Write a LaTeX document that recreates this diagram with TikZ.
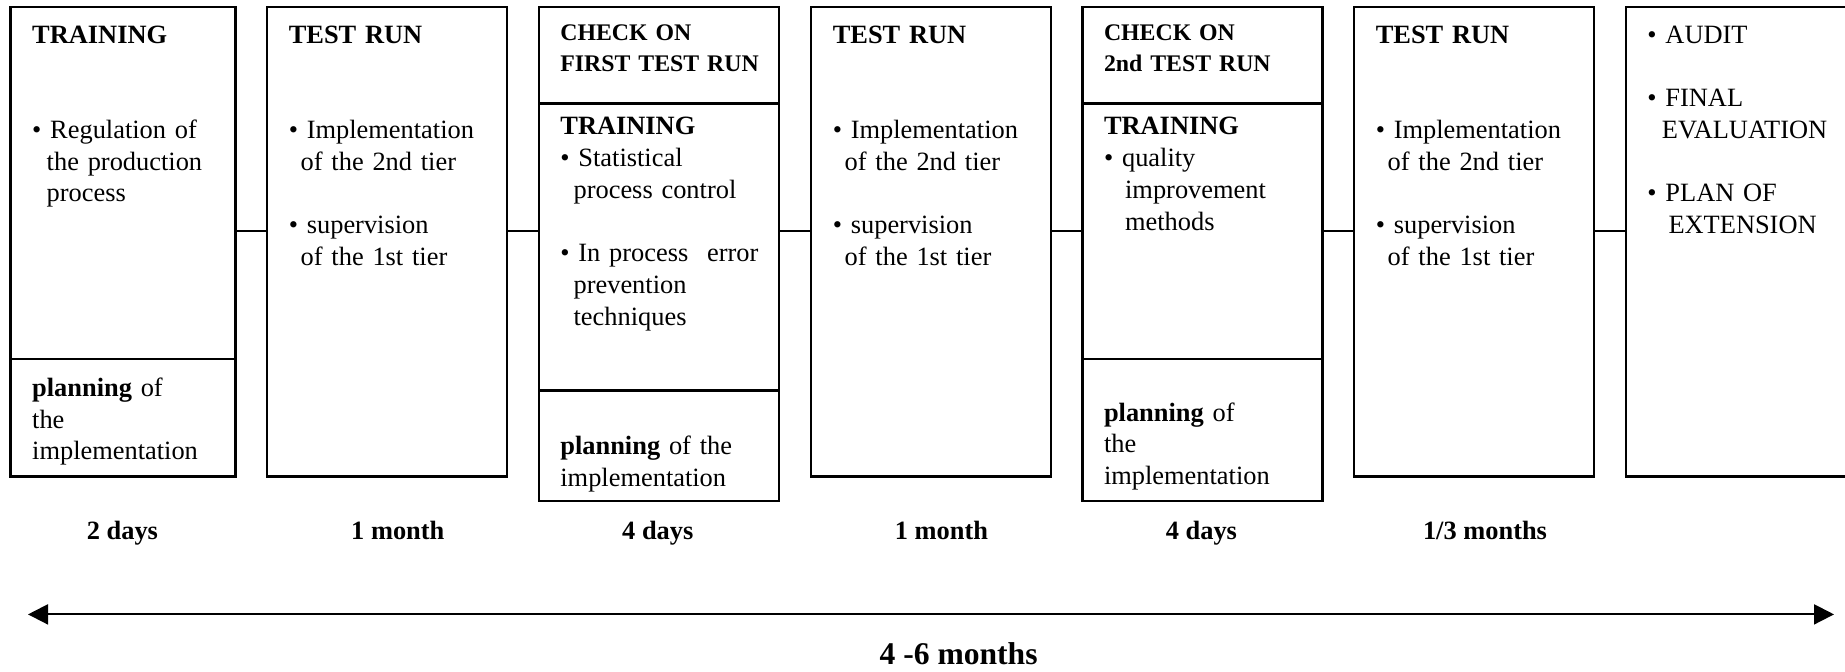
\documentclass[tikz,border=0pt]{standalone}
\usepackage{fontspec}
\setmainfont{Liberation Serif}
\usetikzlibrary{arrows.meta}

\tikzset{
	sect/.style={draw, line width=1.2pt, anchor=north west, inner sep=0pt, outer sep=0pt, minimum width=120pt},
	txt/.style={anchor=base west, inner sep=0pt, text width=99pt, align=left, font=\fontsize{13.2}{15.85}\selectfont},
	head/.style={txt, text width=110pt, font=\fontsize{11.9}{15.5}\selectfont\bfseries},
	dur/.style={anchor=base, inner sep=0pt, font=\fontsize{13.2}{15.85}\selectfont\bfseries},
	link/.style={line width=1pt}
}

\begin{document}
\begin{tikzpicture}[x=1pt, y=-1pt]
	\useasboundingbox (0,0) rectangle (922.5,336);
	% boxes
	\node[sect, minimum width=112.35pt, minimum height=176pt] (b1top) at (5.3,3.5) {};
	\node[sect, minimum width=112.35pt, minimum height=58.8pt, at=(b1top.south west)] (b1bot) {};
	\node[sect, minimum height=48.25pt] (b3top) at (269.5,3.5) {};
	\node[sect, minimum height=143.6pt, at=(b3top.south west)] (b3mid) {};
	\node[sect, minimum height=55.15pt, at=(b3mid.south west)] (b3bot) {};
	\node[sect, minimum height=48.25pt] (b5top) at (541.3,3.5) {};
	\node[sect, minimum height=127.75pt, at=(b5top.south west)] (b5mid) {};
	\node[sect, minimum height=71pt, at=(b5mid.south west)] (b5bot) {};
	\node[sect, minimum height=234.8pt] (b7) at (813,3.5) {};
	\foreach \i/\x in {2/133.5, 4/405.5, 6/677} {
		\node[sect, minimum height=234.8pt] (b\i) at (\x,3.5) {};
		\node[txt] (t\i) at (\x+10.7,21.7) {\textbf{TEST RUN}\\[2\baselineskip]
			\textbullet\ Implementation\\ \hspace*{0.45em}of the 2nd tier\\[\baselineskip]
			\textbullet\ supervision\\ \hspace*{0.45em}of the 1st tier};
	}
	% texts
	\node[txt] (t1top) at (15.9,21.7) {\textbf{TRAINING}\\[2\baselineskip]
		\textbullet\ Regulation of\\ \hspace*{0.55em}the production\\ \hspace*{0.55em}process};
	\node[txt] (t1bot) at (15.9,198.3) {\textbf{planning} of\\ the\\ implementation};
	\node[head] (t3top) at (280,20.3) {CHECK ON\\ FIRST TEST RUN};
	\node[txt] (t3mid) at (280,67.5) {\textbf{TRAINING}\\ \textbullet\ Statistical\\
		\hspace*{0.5em}process control\\[\baselineskip]
		\textbullet\ In process\hfill error\\ \hspace*{0.5em}prevention\\ \hspace*{0.5em}techniques};
	\node[txt] (t3bot) at (280,227.5) {\textbf{planning} of the\\ implementation};
	\node[head] (t5top) at (551.8,20.3) {CHECK ON\\ 2nd TEST RUN};
	\node[txt] (t5mid) at (551.8,67.5) {\textbf{TRAINING}\\ \textbullet\ quality\\
		\hspace*{0.8em}improvement\\ \hspace*{0.8em}methods};
	\node[txt] (t5bot) at (551.8,210.6) {\textbf{planning} of\\ the\\ implementation};
	\node[txt] (t7) at (823.5,21.7) {\textbullet\ AUDIT\\[\baselineskip]
		\textbullet\ FINAL\\ \hspace*{0.55em}EVALUATION\\[\baselineskip]
		\textbullet\ PLAN OF\\ \hspace*{0.8em}EXTENSION};
	% links
	\coordinate (mid) at (0,115.35);
	\foreach \a/\b in {b1top/b2, b2/b3mid, b3mid/b4, b4/b5mid, b5mid/b6, b6/b7}
		\draw[link] (\a.east |- mid) -- (\b.west |- mid);
	% durations
	\foreach \x/\t [count=\i] in {61.2/2 days, 198.9/1 month, 328.9/4 days, 470.7/1 month, 600.7/4 days, 742.5/{1/3 months}}
		\node[dur] (d\i) at (\x,270) {\t};
	\coordinate (left) at (14,307.2);
	\coordinate (right) at (917,307.2);
	\draw[line width=1pt, {Triangle[length=10pt,width=10pt]}-{Triangle[length=10pt,width=10pt]}] (left) -- (right);
	\node[dur, font=\fontsize{15.8}{19}\selectfont\bfseries] (total) at (479.3,332) {4 -6 months};
\end{tikzpicture}
\end{document}
